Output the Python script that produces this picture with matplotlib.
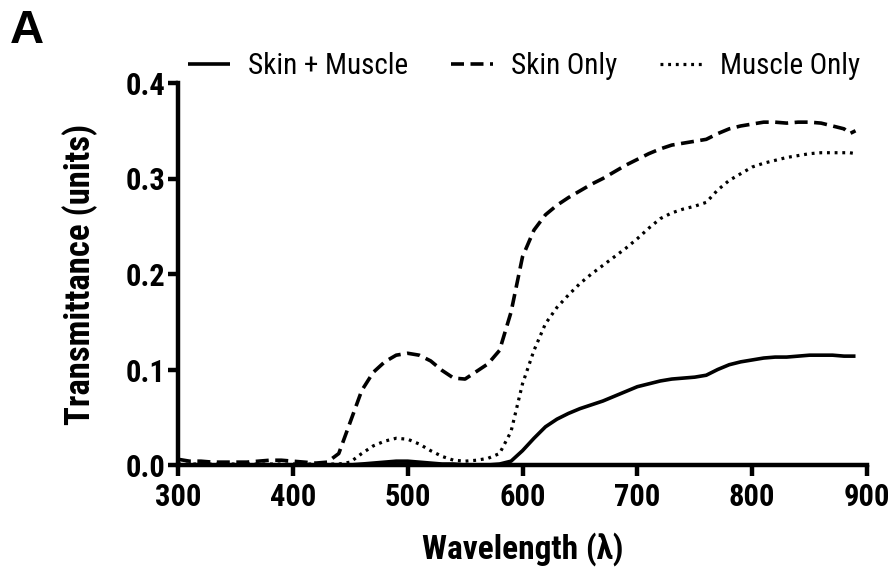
import matplotlib
matplotlib.use("Agg")
import matplotlib.pyplot as plt
from matplotlib import font_manager as fm

wavelength = [300, 310, 320, 330, 340, 350, 360, 370, 380, 390, 400, 410, 420, 430, 440,
              450, 460, 470, 480, 490, 500, 510, 520, 530, 540, 550, 560, 570, 580, 590,
              600, 610, 620, 630, 640, 650, 660, 670, 680, 690, 700, 710, 720, 730, 740,
              750, 760, 770, 780, 790, 800, 810, 820, 830, 840, 850, 860, 870, 880, 885, 890]

skin_only = [0.006, 0.004, 0.004, 0.003, 0.003, 0.003, 0.003, 0.004, 0.005, 0.005, 0.004, 0.003, 0.002, 0.003, 0.012,
             0.045, 0.078, 0.097, 0.108, 0.115, 0.117, 0.115, 0.109, 0.099, 0.091, 0.090, 0.098, 0.106, 0.120, 0.160,
             0.218, 0.246, 0.262, 0.272, 0.280, 0.287, 0.294, 0.300, 0.307, 0.314, 0.320, 0.326, 0.331, 0.335, 0.337,
             0.339, 0.341, 0.347, 0.352, 0.355, 0.357, 0.359, 0.359, 0.358, 0.359, 0.359, 0.358, 0.355, 0.352, 0.347, 0.350]

muscle_only = [0.001, 0.001, 0.001, 0.001, 0.001, 0.001, 0.001, 0.001, 0.001, 0.001, 0.001, 0.001, 0.001, 0.001, 0.001,
               0.003, 0.012, 0.020, 0.025, 0.028, 0.027, 0.022, 0.015, 0.009, 0.005, 0.004, 0.005, 0.007, 0.012, 0.035,
               0.085, 0.120, 0.148, 0.165, 0.178, 0.190, 0.200, 0.209, 0.218, 0.227, 0.237, 0.248, 0.258, 0.264, 0.268,
               0.271, 0.275, 0.288, 0.298, 0.305, 0.312, 0.316, 0.319, 0.322, 0.324, 0.326, 0.327, 0.327, 0.327, 0.327, 0.326]

skin_muscle = [0.000, 0.000, 0.000, 0.000, 0.000, 0.000, 0.000, 0.000, 0.000, 0.000, 0.000, 0.000, 0.000, 0.000, 0.000,
               0.000, 0.001, 0.002, 0.003, 0.004, 0.004, 0.003, 0.002, 0.001, 0.001, 0.000, 0.000, 0.000, 0.001, 0.004,
               0.015, 0.028, 0.040, 0.048, 0.054, 0.059, 0.063, 0.067, 0.072, 0.077, 0.082, 0.085, 0.088, 0.090, 0.091,
               0.092, 0.094, 0.100, 0.105, 0.108, 0.110, 0.112, 0.113, 0.113, 0.114, 0.115, 0.115, 0.115, 0.114, 0.114, 0.114]

series_labels = ["Skin + Muscle", "Skin Only", "Muscle Only"]
x_ticks = [300, 400, 500, 600, 700, 800, 900]
y_ticks = [0.0, 0.1, 0.2, 0.3, 0.4]


def find_condensed(bold):
    """Return the path of an installed condensed/narrow sans font, or None."""
    prefs = ["Liberation Sans Narrow", "Roboto Condensed", "DejaVu Sans", "Open Sans Condensed"]
    cands = []
    for f in fm.fontManager.ttflist:
        is_cond = ("Narrow" in f.name or "Condensed" in f.name or
                   f.stretch in ("condensed", "semi-condensed", "extra-condensed") or
                   "Condensed" in f.fname or "Narrow" in f.fname)
        if not is_cond or f.style != "normal":
            continue
        w = f.weight if isinstance(f.weight, int) else (700 if "bold" in str(f.weight) else 400)
        if bold and w < 600:
            continue
        if not bold and w >= 600:
            continue
        if "Mono" in f.name or "Serif" in f.name:
            continue
        rank = len(prefs)
        for i, p in enumerate(prefs):
            if f.name.startswith(p):
                rank = i
                break
        cands.append((rank, f.fname))
    if not cands:
        return None
    cands.sort()
    return cands[0][1]


bold_path = find_condensed(True)
reg_path = find_condensed(False)
plt.rcParams["font.family"] = ["Liberation Sans", "DejaVu Sans"]


def fp(size, bold):
    path = bold_path if bold else reg_path
    if path:
        return fm.FontProperties(fname=path, size=size)
    return fm.FontProperties(family=["Liberation Sans", "DejaVu Sans"], size=size,
                             weight="bold" if bold else "normal")


cond = bold_path is not None
tick_size = 22 if cond else 18
xlabel_size = 24 if cond else 20
ylabel_size = 25 if cond else 21
leg_size = 21 if cond else 17

fig = plt.figure(figsize=(8.93, 5.69), dpi=100)
ax = fig.add_axes([178 / 893, 1 - 465 / 569, (867 - 178) / 893, (465 - 83) / 569])

ax.plot(wavelength, skin_muscle, color="black", lw=2.6, solid_capstyle="butt",
        label=series_labels[0], zorder=3)
ax.plot(wavelength, skin_only, color="black", lw=2.6, linestyle=(0, (3.6, 1.8)),
        label=series_labels[1], zorder=3)
ax.plot(wavelength, muscle_only, color="black", lw=2.3, linestyle=(0, (0.9, 1.5)),
        label=series_labels[2], zorder=3)

ax.set_xlim(300, 900)
ax.set_ylim(0, 0.4)
ax.set_xticks(x_ticks)
ax.set_yticks(y_ticks)
ax.set_xticklabels([str(v) for v in x_ticks], fontproperties=fp(tick_size, True))
ax.set_yticklabels([f"{v:.1f}" for v in y_ticks], fontproperties=fp(tick_size, True))

for side in ("top", "right"):
    ax.spines[side].set_visible(False)
for side in ("left", "bottom"):
    ax.spines[side].set_linewidth(3.2)
    ax.spines[side].set_capstyle("projecting")

ax.tick_params(axis="x", direction="out", length=8, width=3.2, pad=4)
ax.tick_params(axis="y", direction="out", length=7, width=3.2, pad=2)

ax.set_xlabel("Wavelength (λ)", fontproperties=fp(xlabel_size, True), labelpad=15)
ax.set_ylabel("Transmittance (units)", fontproperties=fp(ylabel_size, True), labelpad=20)

fig.text(10 / 893, 1 - 43 / 569, "A", fontsize=34, fontweight="bold",
         ha="left", va="baseline", family=["Liberation Sans", "DejaVu Sans"])

fig.legend(loc="center", bbox_to_anchor=(524 / 893, 1 - 66 / 569), ncol=3, frameon=False,
           prop=fp(leg_size, False), handlelength=1.45, columnspacing=1.45, handletextpad=0.62)

fig.savefig("out.png", dpi=100)
